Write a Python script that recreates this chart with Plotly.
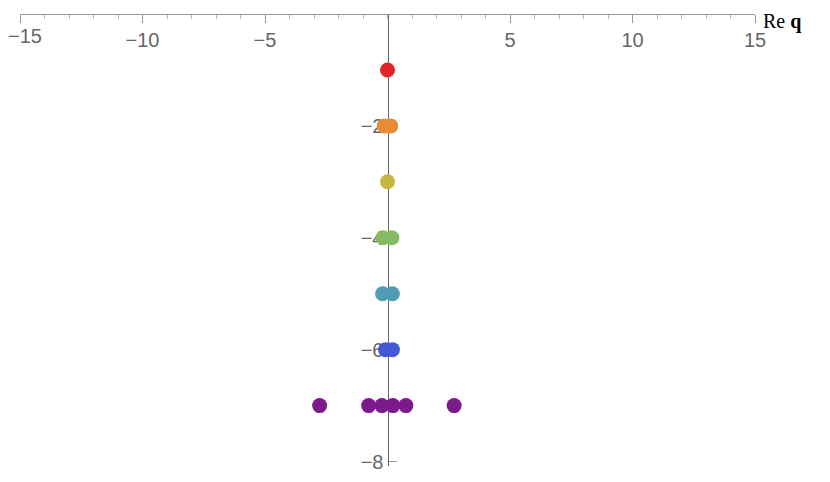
import plotly.graph_objects as go

# points of each level
levels = [-1, -2, -3, -4, -5, -6, -7]
xs = [
    [0.0],
    [-0.13, 0.13],
    [0.0],
    [-0.18, 0.18],
    [-0.2, 0.2],
    [-0.08, 0.2],
    [-2.77, -0.77, -0.23, 0.22, 0.75, 2.72],
]
colors = ["#e0262a", "#e98a35", "#c5b73f", "#86bb63", "#4f9cb3", "#4258d6", "#7b1a8a"]
x_ticks = [-15, -10, -5, 5, 10, 15]
y_ticks = [-2, -4, -6, -8]

fig = go.Figure()
for lv, xv, c in zip(levels, xs, colors):
    fig.add_trace(go.Scatter(x=xv, y=[lv] * len(xv), mode="markers",
                             marker=dict(color=c, size=15), showlegend=False))

axis_font = dict(family="Liberation Sans", size=20, color="#666666")
fig.update_xaxes(range=[-15, 15], anchor="free", position=1, side="bottom",
                 showgrid=False, zeroline=False, showline=True, linecolor="#999999",
                 ticks="outside", ticklen=8, tickcolor="#999999",
                 tickvals=x_ticks, ticktext=[""] + [f"{v}".replace("-", "−") for v in x_ticks[1:]],
                 automargin=False,
                 minor=dict(ticks="outside", ticklen=4, dtick=1, tickcolor="#bbbbbb"),
                 tickfont=axis_font, layer="below traces")
fig.update_yaxes(range=[-8.08, 0], anchor="free", position=0.5,
                 showgrid=False, zeroline=False, showline=True, linecolor="#666666",
                 ticks="inside", ticklen=8, tickcolor="#999999",
                 tickvals=y_ticks, automargin=False,
                 minor=dict(ticks="inside", ticklen=4, tickvals=[-1, -3, -5, -7], tickcolor="#bbbbbb"),
                 tickfont=axis_font, ticklabelstandoff=0, layer="below traces")
# leftmost tick label would be dropped at the paper edge
fig.add_annotation(text="−15", x=-15, y=1, xref="x", yref="paper", xanchor="left",
                   yanchor="top", xshift=-14, yshift=-9, showarrow=False, font=axis_font)
fig.add_annotation(text="Re <b>q</b>", x=1, y=1, xref="paper", yref="paper",
                   xanchor="left", yanchor="top", xshift=6, yshift=6, showarrow=False,
                   font=dict(family="Liberation Serif", size=20, color="black"))
fig.update_layout(width=830, height=482, plot_bgcolor="white", paper_bgcolor="white",
                  margin=dict(l=12, r=83, t=6, b=24, autoexpand=False))
fig.write_html("out.html")
